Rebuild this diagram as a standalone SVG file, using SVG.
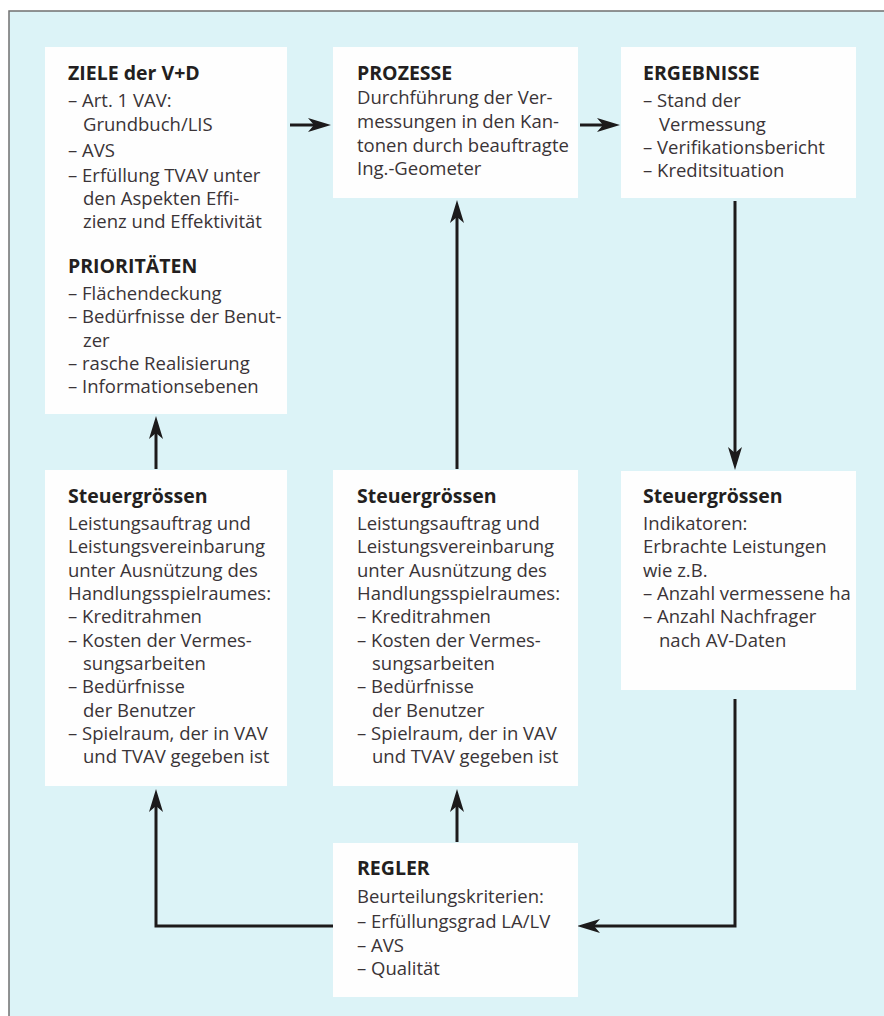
<svg xmlns="http://www.w3.org/2000/svg" width="884" height="1016" viewBox="0 0 884 1016">
<defs>
<style>
.bg{fill:#dcf3f7;stroke:#707070;stroke-width:1.5}
.box{fill:#fefefe}
text{font-family:"Open Sans","Liberation Sans",sans-serif;font-size:18.5px;fill:#3a3437}
.t{font-weight:bold;font-size:19.5px;fill:#231f20}
.c{fill:none;stroke:#1c1a1b;stroke-width:3;marker-end:url(#ah)}
</style>
<marker id="ah" markerUnits="userSpaceOnUse" markerWidth="24" markerHeight="16" refX="14" refY="8" orient="auto">
<path d="M0,1 L23,8 L0,15 L6,8 Z" fill="#1c1a1b"/>
</marker>
</defs>
<rect x="0" y="0" width="884" height="1016" fill="#ffffff"/>
<rect class="bg" x="9" y="11" width="890" height="1020"/>

<g id="connectors">
<path class="c" d="M290,125 H322"/>
<path class="c" d="M580,125 H611"/>
<path class="c" d="M735,201 V461"/>
<path class="c" d="M457,469 V209"/>
<path class="c" d="M156,469 V425"/>
<path class="c" d="M735,699 V926 H586"/>
<path class="c" d="M457,842 V798"/>
<path class="c" d="M333,926 H156 V798"/>
</g>

<g id="ziele">
<rect class="box" x="45" y="47" width="242" height="367"/>
<text class="t" x="68" y="80">ZIELE der V+D</text>
<text x="68" y="107">– Art. 1 VAV:</text>
<text x="83" y="131">Grundbuch/LIS</text>
<text x="68" y="157">– AVS</text>
<text x="68" y="182">– Erfüllung TVAV unter</text>
<text x="83" y="205">den Aspekten Effi-</text>
<text x="83" y="228">zienz und Effektivität</text>
<text class="t" x="68" y="273">PRIORITÄTEN</text>
<text x="68" y="300">– Flächendeckung</text>
<text x="68" y="323">– Bedürfnisse der Benut-</text>
<text x="83" y="347">zer</text>
<text x="68" y="370">– rasche Realisierung</text>
<text x="68" y="393">– Informationsebenen</text>
</g>

<g id="prozesse">
<rect class="box" x="333" y="47" width="245" height="151"/>
<text class="t" x="357" y="80">PROZESSE</text>
<text x="357" y="104">Durchführung der Ver-</text>
<text x="357" y="128">messungen in den Kan-</text>
<text x="357" y="152">tonen durch beauftragte</text>
<text x="357" y="175">Ing.-Geometer</text>
</g>

<g id="ergebnisse">
<rect class="box" x="621" y="47" width="235" height="151"/>
<text class="t" x="643" y="80">ERGEBNISSE</text>
<text x="643" y="107">– Stand der</text>
<text x="659" y="131">Vermessung</text>
<text x="643" y="154">– Verifikationsbericht</text>
<text x="643" y="177">– Kreditsituation</text>
</g>

<g id="steuer-links">
<rect class="box" x="45" y="470" width="242" height="316"/>
<text class="t" x="68" y="503">Steuergrössen</text>
<text x="68" y="530">Leistungsauftrag und</text>
<text x="68" y="553">Leistungsvereinbarung</text>
<text x="68" y="577">unter Ausnützung des</text>
<text x="68" y="600">Handlungsspielraumes:</text>
<text x="68" y="623">– Kreditrahmen</text>
<text x="68" y="647">– Kosten der Vermes-</text>
<text x="83" y="670">sungsarbeiten</text>
<text x="68" y="693">– Bedürfnisse</text>
<text x="83" y="717">der Benutzer</text>
<text x="68" y="740">– Spielraum, der in VAV</text>
<text x="83" y="763">und TVAV gegeben ist</text>
</g>

<g id="steuer-mitte">
<rect class="box" x="333" y="470" width="245" height="316"/>
<text class="t" x="357" y="503">Steuergrössen</text>
<text x="357" y="530">Leistungsauftrag und</text>
<text x="357" y="553">Leistungsvereinbarung</text>
<text x="357" y="577">unter Ausnützung des</text>
<text x="357" y="600">Handlungsspielraumes:</text>
<text x="357" y="623">– Kreditrahmen</text>
<text x="357" y="647">– Kosten der Vermes-</text>
<text x="372" y="670">sungsarbeiten</text>
<text x="357" y="693">– Bedürfnisse</text>
<text x="372" y="717">der Benutzer</text>
<text x="357" y="740">– Spielraum, der in VAV</text>
<text x="372" y="763">und TVAV gegeben ist</text>
</g>

<g id="steuer-rechts">
<rect class="box" x="621" y="471" width="235" height="219"/>
<text class="t" x="643" y="503">Steuergrössen</text>
<text x="643" y="530">Indikatoren:</text>
<text x="643" y="553">Erbrachte Leistungen</text>
<text x="643" y="577">wie z.B.</text>
<text x="643" y="600">– Anzahl vermessene ha</text>
<text x="643" y="623">– Anzahl Nachfrager</text>
<text x="659" y="647">nach AV-Daten</text>
</g>

<g id="regler">
<rect class="box" x="333" y="843" width="245" height="154"/>
<text class="t" x="357" y="875">REGLER</text>
<text x="357" y="903">Beurteilungskriterien:</text>
<text x="357" y="928">– Erfüllungsgrad LA/LV</text>
<text x="357" y="952">– AVS</text>
<text x="357" y="975">– Qualität</text>
</g>
</svg>
